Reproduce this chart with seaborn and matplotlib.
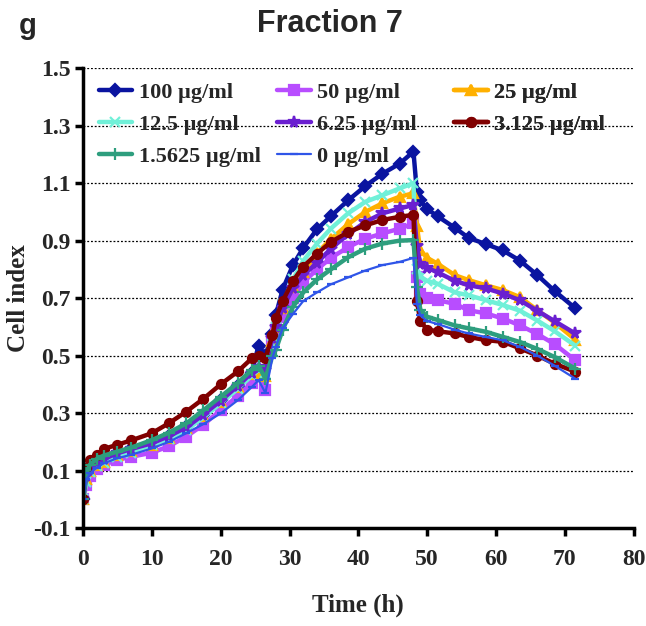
import matplotlib
matplotlib.use("Agg")
import matplotlib.pyplot as plt
import seaborn as sns

sns.set_theme(style="white")
plt.rcParams["font.family"] = ["Liberation Serif", "DejaVu Serif"]

# time points (h)
time_h = [0, 0.5, 1, 2, 3, 5, 7, 10, 12.5, 15, 17.5, 20, 22.5, 24.5, 25.5, 26.5,
          27.5, 28, 29, 30.5, 32, 34, 36, 38.5, 41, 43.5, 46, 48, 48.5, 49, 50,
          51.5, 54, 56, 58.5, 61, 63.5, 66, 68.5, 71.5]

# cell index per concentration
ci_100 = [0.0, 0.09, 0.115, 0.13, 0.14, 0.16, 0.175, 0.195, 0.22, 0.253, 0.295, 0.345,
          0.395, 0.44, 0.535, 0.50, 0.575, 0.64, 0.73, 0.815, 0.875, 0.94, 0.985, 1.04,
          1.09, 1.133, 1.168, 1.21, 1.07, 1.04, 1.01, 0.985, 0.945, 0.91, 0.888, 0.866,
          0.83, 0.78, 0.725, 0.665]
ci_50 = [0.0, 0.05, 0.08, 0.105, 0.12, 0.137, 0.148, 0.162, 0.185, 0.218, 0.26, 0.31,
         0.36, 0.405, 0.43, 0.38, 0.55, 0.59, 0.635, 0.70, 0.755, 0.80, 0.84, 0.877,
         0.907, 0.925, 0.942, 0.96, 0.775, 0.716, 0.70, 0.693, 0.68, 0.658, 0.647, 0.629,
         0.605, 0.575, 0.54, 0.484]
ci_25 = [0.0, 0.07, 0.10, 0.12, 0.13, 0.154, 0.168, 0.189, 0.215, 0.247, 0.29, 0.34,
         0.39, 0.435, 0.44, 0.43, 0.55, 0.60, 0.665, 0.74, 0.79, 0.857, 0.905, 0.957,
         1.0, 1.03, 1.053, 1.065, 0.95, 0.867, 0.84, 0.82, 0.78, 0.763, 0.745, 0.728,
         0.703, 0.658, 0.615, 0.556]
ci_12_5 = [0.0, 0.06, 0.095, 0.115, 0.128, 0.148, 0.162, 0.189, 0.21, 0.241, 0.285, 0.334,
           0.385, 0.43, 0.45, 0.44, 0.54, 0.60, 0.68, 0.765, 0.83, 0.89, 0.942, 0.995,
           1.035, 1.058, 1.082, 1.10, 0.80, 0.774, 0.76, 0.75, 0.72, 0.71, 0.693, 0.676,
           0.656, 0.622, 0.585, 0.535]
ci_6_25 = [0.0, 0.08, 0.11, 0.13, 0.14, 0.16, 0.175, 0.195, 0.22, 0.25, 0.295, 0.343,
           0.395, 0.44, 0.46, 0.45, 0.56, 0.60, 0.665, 0.735, 0.78, 0.823, 0.872, 0.922,
           0.965, 0.995, 1.012, 1.024, 0.88, 0.82, 0.805, 0.79, 0.76, 0.745, 0.734, 0.716,
           0.692, 0.656, 0.62, 0.577]
ci_3_125 = [0.0, 0.11, 0.135, 0.155, 0.175, 0.19, 0.205, 0.23, 0.265, 0.305, 0.35, 0.40,
            0.445, 0.49, 0.50, 0.49, 0.57, 0.63, 0.69, 0.76, 0.81, 0.855, 0.895, 0.93,
            0.953, 0.972, 0.983, 0.99, 0.69, 0.62, 0.59, 0.585, 0.577, 0.565, 0.554, 0.548,
            0.525, 0.50, 0.472, 0.444]
ci_1_5625 = [0.0, 0.09, 0.12, 0.14, 0.152, 0.166, 0.18, 0.206, 0.232, 0.264, 0.31, 0.357,
             0.405, 0.45, 0.465, 0.42, 0.50, 0.52, 0.59, 0.67, 0.72, 0.765, 0.80, 0.842,
             0.872, 0.89, 0.90, 0.902, 0.74, 0.66, 0.635, 0.624, 0.605, 0.595, 0.583, 0.565,
             0.547, 0.523, 0.495, 0.455]
ci_0 = [0.0, 0.07, 0.09, 0.11, 0.125, 0.143, 0.155, 0.177, 0.20, 0.23, 0.262, 0.299,
        0.345, 0.39, 0.415, 0.37, 0.49, 0.53, 0.595, 0.645, 0.69, 0.72, 0.748, 0.772,
        0.796, 0.815, 0.826, 0.84, 0.68, 0.64, 0.62, 0.61, 0.59, 0.577, 0.565, 0.553,
        0.53, 0.50, 0.465, 0.42]

labels = ["100 µg/ml", "50 µg/ml", "25 µg/ml", "12.5 µg/ml", "6.25 µg/ml",
          "3.125 µg/ml", "1.5625 µg/ml", "0 µg/ml"]
series = [ci_100, ci_50, ci_25, ci_12_5, ci_6_25, ci_3_125, ci_1_5625, ci_0]
colors = ["#0A14A0", "#B84DFF", "#FFB000", "#70F0D8", "#6A1FD0", "#800000",
          "#2E9E7E", "#2F55E8"]
markers = ["D", "s", "^", "x", "*", "o", "+", "_"]
msizes = [6.5, 6.5, 7, 7, 8.5, 6.5, 8, 6]
lwidths = [3.2, 3.2, 3.2, 3.2, 3.2, 3.2, 3.2, 1.6]

fig, ax = plt.subplots(figsize=(6.46, 6.26), dpi=100)
fig.subplots_adjust(left=0.1285, right=0.981, bottom=0.1565, top=0.891)

handles = []
for lab, vals, col, mk, ms, lw in zip(labels, series, colors, markers, msizes, lwidths):
    sns.lineplot(x=time_h, y=vals, ax=ax, color=col, marker=mk, markersize=ms,
                 markeredgecolor=col, markeredgewidth=1.6, linewidth=lw, label=lab)
    handles.append(ax.lines[-1])
if ax.get_legend() is not None:
    ax.get_legend().remove()

ax.set_xlim(0, 80)
ax.set_ylim(-0.1, 1.5)
ax.set_xticks(range(0, 81, 10))
yt = [-0.1, 0.1, 0.3, 0.5, 0.7, 0.9, 1.1, 1.3, 1.5]
ax.set_yticks(yt)
ax.set_yticklabels([f"{v:.1f}" for v in yt])
ax.yaxis.grid(True, linestyle=(0, (1.5, 1.5)), color="black", linewidth=0.9)
ax.xaxis.grid(False)
for s in ["top", "right"]:
    ax.spines[s].set_visible(False)
for s in ["left", "bottom"]:
    ax.spines[s].set_linewidth(2.5)
    ax.spines[s].set_color("black")
ax.tick_params(axis="both", direction="out", length=6, width=2.5, color="black",
               labelsize=17, left=True, bottom=True)
ax.tick_params(axis="x", pad=9)
ax.tick_params(axis="y", pad=3)
for t in ax.get_xticklabels() + ax.get_yticklabels():
    t.set_fontweight("bold")

ax.set_xlabel("Time (h)", fontsize=18, fontweight="bold", labelpad=17)
ax.set_ylabel("Cell index", fontsize=18, fontweight="bold", labelpad=2)

# legend laid out row-wise in three columns
cols = [[0, 3, 6], [1, 4, 7], [2, 5]]
xpos = [0.012, 0.337, 0.658]
for idx, xp in zip(cols, xpos):
    leg = ax.legend([handles[i] for i in idx], [labels[i] for i in idx],
                    loc="upper left", bbox_to_anchor=(xp, 0.988), frameon=False,
                    prop={"family": "Liberation Serif", "weight": "bold", "size": 16},
                    handlelength=1.5, handletextpad=0.3, labelspacing=0.5,
                    borderaxespad=0, numpoints=1)
    ax.add_artist(leg)

fig.text(0.511, 0.962, "Fraction 7", ha="center", va="center", fontsize=22,
         fontweight="bold", family="Liberation Sans")
fig.text(0.043, 0.958, "g", ha="center", va="center", fontsize=21,
         fontweight="bold", family="Liberation Sans")

fig.savefig("out.png", dpi=100)
